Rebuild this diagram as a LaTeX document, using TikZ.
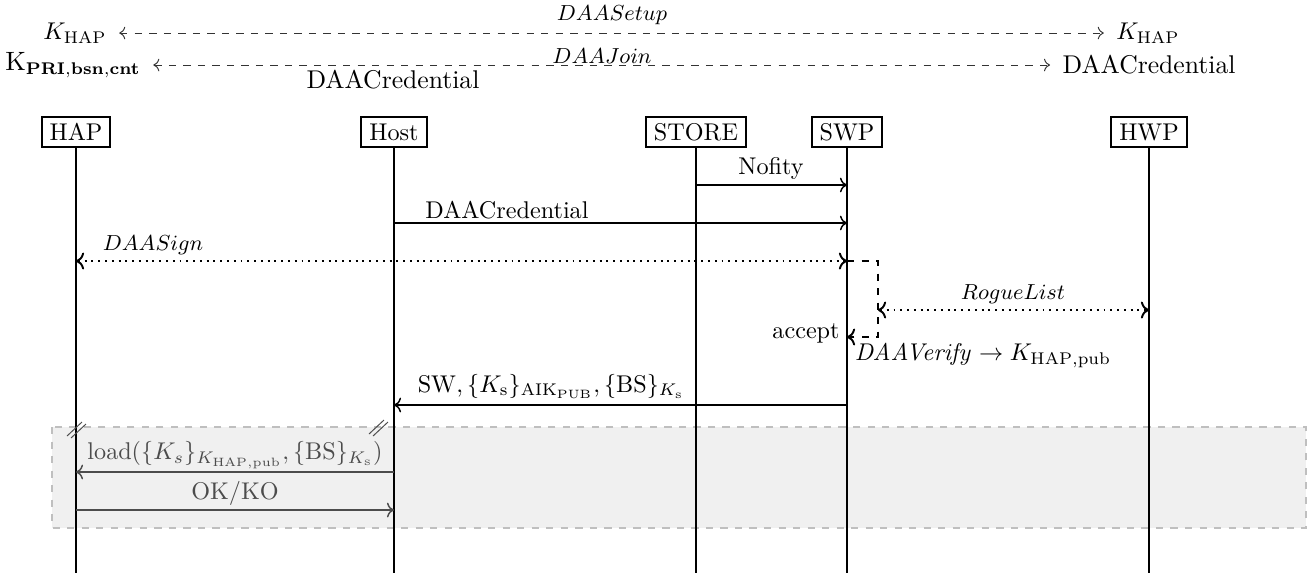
\documentclass[tikz,border=0pt]{standalone}
\usetikzlibrary{arrows.meta,calc}
\begin{document}
\begin{tikzpicture}[x=0.4133pt,y=-0.4133pt,
  actor/.style={draw,thick,inner xsep=3.3pt,inner ysep=2.7pt,text height=6.83pt,text depth=0pt},
  lifeline/.style={thick},
  msg/.style={semithick,->},
  dotmsg/.style={thick,dotted,<->},
  loopmsg/.style={thick,dashed,->},
  topmsg/.style={dashed,<->,black!80},
  toplabel/.style={inner xsep=5pt,inner ysep=0pt},
  biglabel/.style={inner xsep=5pt,inner ysep=0pt,font=\fontsize{10.6}{12}\selectfont},
  itlabel/.style={font=\small,inner sep=0pt},
  lbl/.style={inner sep=0pt},
  graymsg/.style={semithick,->,black!70},
  graylbl/.style={inner sep=0pt,text=black!70},
  breakmark/.style={black!70,thin}]
\useasboundingbox (0,0) rectangle (1307,573);

% top exchanges
\node[toplabel] (khapL) at (75,33) {$K_{\mathrm{HAP}}$};
\node[toplabel] (khapR) at (1148,33) {$K_{\mathrm{HAP}}$};
\draw[topmsg] (khapL) -- (khapR);
\node[itlabel] (setup) at (612,15) {$DAASetup$};

\node[biglabel] (kpri) at (73,65) {$\mathrm{K}_{\mathbf{PRI,bsn,cnt}}$};
\node[biglabel] (credR) at (1149,65) {DAACredential};
\draw[topmsg] (kpri) -- (credR);
\node[itlabel] (join) at (602,56) {$DAAJoin$};
\node[biglabel,inner xsep=0pt] (credL) at (393,80) {DAACredential};

% gray optional area
\coordinate (g1) at (52,427);
\coordinate (g2) at (1306,528);
\fill[black!6] (g1) rectangle (g2);
\draw[dashed,black!25,thick] (g1) rectangle (g2);

% actors
\node[actor] (hap) at (76,132) {HAP};
\node[actor] (host) at (394,132) {Host};
\node[actor] (store) at (696,132) {STORE};
\node[actor] (swp) at (847,132) {SWP};
\node[actor] (hwp) at (1149,132) {HWP};

% lifelines
\foreach \a in {hap,host,store,swp,hwp}
  \draw[lifeline] (\a.south) -- (\a |- 0,573);

% messages
\draw[msg] (store |- 0,185) -- (swp |- 0,185);
\node[lbl] (nofity) at (771,168) {Nofity};

\draw[msg] (host |- 0,223) -- (swp |- 0,223);
\node[lbl] (cred) at (507,210) {DAACredential};

\draw[dotmsg] (hap |- 0,261) -- (swp |- 0,261);
\node[itlabel] (sign) at (153,245) {$DAASign$};

\coordinate (v1) at (878,261);
\coordinate (v2) at (878,337);
\coordinate (v3) at (878,310);
\draw[loopmsg] (swp |- v1) -- (v1) -- (v2) -- (swp |- v2);
\node[lbl] (accept) at (806,333) {accept};
\draw[dotmsg] (v3) -- (hwp |- v3);
\node[itlabel] (rogue) at (1013,294) {$RogueList$};
\node[lbl] (verify) at (983,356) {$\mathit{DAAVerify} \rightarrow K_{\mathrm{HAP,pub}}$};

\draw[msg] (swp |- 0,405) -- (host |- 0,405);
\node[lbl] (sw) at (551,386) {$\mathrm{SW}, \{K_{\mathrm{s}}\}_{\mathrm{AIK}_{\mathrm{PUB}}}, \{\mathrm{BS}\}_{K_{\mathrm{s}}}$};

% break marks
\draw[breakmark] (67,436) -- (82,422) (71,438) -- (86,424);
\draw[breakmark] (369,434) -- (384,420) (373,436) -- (388,422);

\draw[graymsg] (host |- 0,472) -- (hap |- 0,472);
\node[graylbl] (load) at (235,455) {$\mathrm{load}(\{K_s\}_{K_{\mathrm{HAP,pub}}}, \{\mathrm{BS}\}_{K_{\mathrm{s}}})$};
\draw[graymsg] (hap |- 0,510) -- (host |- 0,510);
\node[graylbl] (okko) at (235,493) {OK/KO};
\end{tikzpicture}
\end{document}
